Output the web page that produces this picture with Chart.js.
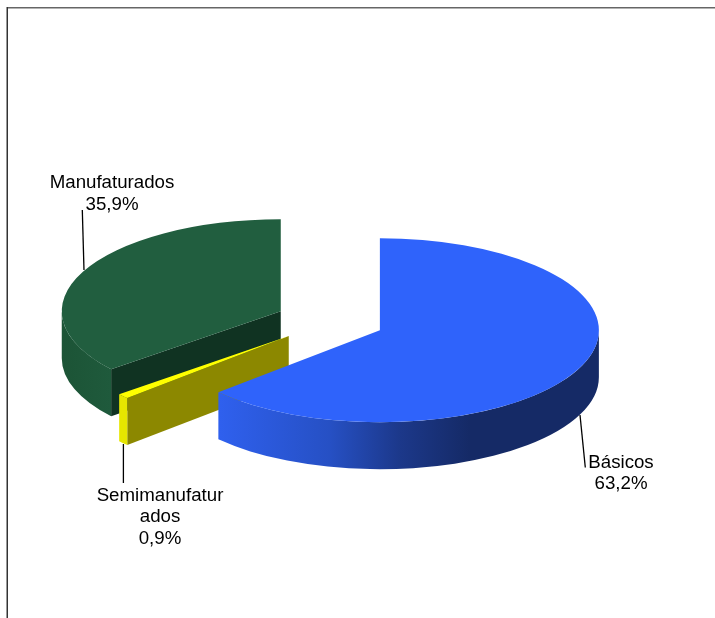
<!DOCTYPE html>
<html lang="pt">
<head>
<meta charset="utf-8">
<title>Pie</title>
<script src="https://cdn.jsdelivr.net/npm/chart.js@4"></script>
<style>
html,body{margin:0;padding:0;background:#fff;}
canvas{display:block;}
</style>
</head>
<body>
<canvas id="c" width="715" height="618"></canvas>
<script>
const categories = ["Básicos", "Semimanufaturados", "Manufaturados"];
const values = [63.2, 0.9, 35.9];
const wrappedNames = [["Básicos"], ["Semimanufatur", "ados"], ["Manufaturados"]];

const topColors = ["#2f63fb", "#ffff00", "#215e3f"];
const faceColors = [null, "#8c8800", "#103322"];
const wallStops = [
  [[219, "#2f60ee"], [330, "#2650c4"], [400, "#1c388a"], [470, "#152a66"], [599, "#152a66"]],
  [[119, "#e6e600"], [128, "#e6e600"]],
  [[62, "#1c5436"], [111, "#1f5a3c"]]
];
const labelCenters = [[621, 467.7], [160, 500.7], [112, 188]];
const leaders = [[[580, 415], [585.3, 467.5]], [[123.4, 444], [123.4, 483]], [[82.3, 210], [84, 270]]];
const SQUASH = 0.42, DEPTH = 47, EXPLODE = 54.5, LINE = 21.6;

function explodeOffset(el) {
  const mid = (el.startAngle + el.endAngle) / 2;
  return { dx: Math.cos(mid) * EXPLODE, dy: Math.sin(mid) * EXPLODE * SQUASH };
}

const pie3d = {
  id: "pie3d",
  beforeDatasetsDraw(chart) {
    const ctx = chart.ctx, arcs = chart.getDatasetMeta(0).data;
    // side walls and cut faces, back to front
    [2, 1, 0].forEach(i => {
      const el = arcs[i], { dx, dy } = explodeOffset(el);
      const x = el.x + dx, y = el.y + dy;
      const R = el.outerRadius, r = R * SQUASH;
      const s = el.startAngle, e = el.endAngle;
      if (faceColors[i] && s > 0 && s < Math.PI) {
        const fx = x + Math.cos(s) * R, fy = y + Math.sin(s) * r;
        ctx.beginPath();
        ctx.moveTo(x, y);
        ctx.lineTo(fx, fy);
        ctx.lineTo(fx, fy + DEPTH);
        ctx.lineTo(x, y + DEPTH);
        ctx.closePath();
        ctx.fillStyle = faceColors[i];
        ctx.fill();
      }
      const a0 = Math.max(s, 0), a1 = Math.min(e, Math.PI);
      if (a1 > a0) {
        const st = wallStops[i];
        const g = ctx.createLinearGradient(st[0][0], 0, st[st.length - 1][0], 0);
        st.forEach(p => g.addColorStop((p[0] - st[0][0]) / (st[st.length - 1][0] - st[0][0]), p[1]));
        ctx.beginPath();
        ctx.ellipse(x, y, R, r, 0, a0, a1);
        ctx.ellipse(x, y + DEPTH, R, r, 0, a1, a0, true);
        ctx.closePath();
        ctx.fillStyle = g;
        ctx.fill();
      }
    });
    // top surfaces: the library's own arc elements, squashed and pulled apart
    arcs.forEach(el => {
      const { dx, dy } = explodeOffset(el);
      ctx.save();
      ctx.translate(dx, el.y + dy);
      ctx.scale(1, SQUASH);
      ctx.translate(0, -el.y);
      el.draw(ctx);
      ctx.restore();
    });
    return false;
  },
  afterDraw(chart) {
    const ctx = chart.ctx;
    ctx.save();
    // frame
    ctx.fillStyle = "#666";
    ctx.fillRect(7, 7, 708, 1.5);
    ctx.fillStyle = "#333";
    ctx.fillRect(6.5, 7, 1.5, 611);
    // leader lines
    ctx.strokeStyle = "#000";
    ctx.lineWidth = 1.3;
    leaders.forEach(l => {
      ctx.beginPath();
      ctx.moveTo(l[0][0], l[0][1]);
      ctx.lineTo(l[1][0], l[1][1]);
      ctx.stroke();
    });
    // labels
    ctx.fillStyle = "#000";
    ctx.font = '18.7px "Liberation Sans", Arial, sans-serif';
    ctx.textAlign = "center";
    ctx.textBaseline = "alphabetic";
    categories.forEach((c, i) => {
      const lines = wrappedNames[i].concat(values[i].toFixed(1).replace(".", ",") + "%");
      lines.forEach((t, j) => ctx.fillText(t, labelCenters[i][0], labelCenters[i][1] + j * LINE));
    });
    ctx.restore();
  }
};

new Chart(document.getElementById("c"), {
  type: "pie",
  data: {
    labels: categories,
    datasets: [{
      data: values,
      backgroundColor: topColors,
      borderWidth: 0,
      radius: 219,
      clip: false
    }]
  },
  options: {
    responsive: false,
    animation: false,
    layout: { padding: { top: 24, right: 55 } },
    plugins: { legend: { display: false }, tooltip: { enabled: false } }
  },
  plugins: [pie3d]
});
</script>
</body>
</html>
